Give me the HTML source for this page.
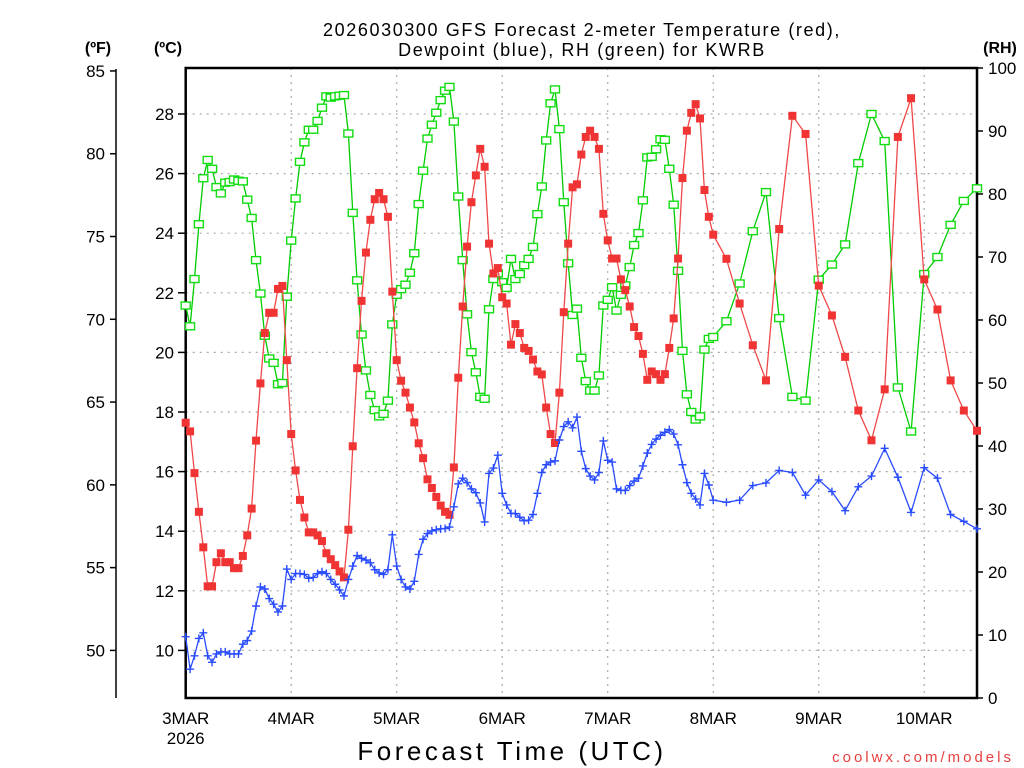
<!DOCTYPE html>
<html><head><meta charset="utf-8"><style>
html,body{margin:0;padding:0;background:#fff;}
svg{display:block;font-family:"Liberation Sans",sans-serif;}
</style></head><body>
<svg id="chart" width="1024" height="768" viewBox="0 0 1024 768" xmlns="http://www.w3.org/2000/svg">
<text x="582" y="36" font-size="18" letter-spacing="1.6" text-anchor="middle" fill="#000">2026030300 GFS Forecast 2-meter Temperature (red),</text>
<text x="582" y="56" font-size="18" letter-spacing="1.6" text-anchor="middle" fill="#000">Dewpoint (blue), RH (green) for KWRB</text>
<text x="98" y="53" font-size="16" font-weight="bold" text-anchor="middle">(ºF)</text>
<text x="168" y="53" font-size="16" font-weight="bold" text-anchor="middle">(ºC)</text>
<text x="1000" y="53" font-size="16" font-weight="bold" text-anchor="middle">(RH)</text>
<text x="512" y="760" font-size="26" letter-spacing="3.5" text-anchor="middle">Forecast Time (UTC)</text>
<text x="1014" y="762" font-size="15" letter-spacing="3" text-anchor="end" fill="#e84040">coolwx.com/models</text>
<g id="grid"></g><g id="axes"></g><g id="series"></g>
</svg>
<script>
const hours=[0,1,2,3,4,5,6,7,8,9,10,11,12,13,14,15,16,17,18,19,20,21,22,23,24,25,26,27,28,29,30,31,32,33,34,35,36,37,38,39,40,41,42,43,44,45,46,47,48,49,50,51,52,53,54,55,56,57,58,59,60,61,62,63,64,65,66,67,68,69,70,71,72,73,74,75,76,77,78,79,80,81,82,83,84,85,86,87,88,89,90,91,92,93,94,95,96,97,98,99,100,101,102,103,104,105,106,107,108,109,110,111,112,113,114,115,116,117,118,119,120,123,126,129,132,135,138,141,144,147,150,153,156,159,162,165,168,171,174,177,180];
const tempC=[17.64,17.35,15.95,14.65,13.46,12.15,12.15,12.96,13.26,12.96,12.96,12.76,12.76,13.17,13.86,14.76,17.04,18.96,20.65,21.33,21.33,22.13,22.23,19.74,17.26,16.04,15.05,14.46,13.96,13.96,13.86,13.67,13.26,13.06,12.86,12.65,12.45,14.05,16.85,19.47,21.73,23.35,24.45,25.14,25.35,25.14,24.55,22.04,19.74,19.05,
18.65,18.15,17.65,16.95,16.45,15.74,15.45,15.15,14.86,14.65,14.55,16.14,19.15,21.54,23.55,25.04,25.94,26.83,26.23,23.65,22.65,22.83,21.85,21.64,20.26,20.95,20.65,20.15,20.05,19.76,19.36,19.26,18.15,17.26,16.96,18.65,21.35,23.65,25.54,25.64,26.64,27.23,27.44,27.23,26.83,24.65,23.76,23.15,
23.15,22.45,22.09,21.54,20.85,20.55,19.95,19.08,19.36,19.27,19.08,19.27,20.15,21.14,23.15,25.85,27.44,28.04,28.33,27.85,25.45,24.55,23.95,
23.14,21.64,20.24,19.06,24.14,27.94,27.33,22.24,21.24,19.85,18.05,17.05,18.76,27.23,28.53,22.45,21.44,19.06,18.05,17.37];
const dewC=[10.46,9.37,9.82,10.4,10.59,9.82,9.6,9.88,9.95,9.95,9.88,9.88,9.88,10.21,10.33,10.65,11.49,12.13,12.06,11.74,11.55,11.29,11.49,12.73,12.38,12.58,12.58,12.55,12.42,12.45,12.58,12.64,12.58,12.38,12.22,12.03,11.83,12.38,12.83,13.18,13.09,13.03,12.94,12.71,12.6,12.55,12.71,13.88,12.83,12.38,
12.13,12.06,12.32,13.22,13.73,13.92,14.01,14.05,14.08,14.09,14.14,14.82,15.59,15.78,15.63,15.42,15.29,14.95,14.31,15.94,16.12,16.55,15.27,14.88,14.6,14.59,14.47,14.35,14.37,14.56,15.27,15.97,16.23,16.32,16.36,17.06,17.51,17.67,17.47,17.83,16.68,16.1,15.85,15.72,15.97,17.03,16.38,16.32,
15.42,15.37,15.37,15.53,15.68,15.78,16.19,16.62,16.91,17.09,17.22,17.32,17.41,17.26,16.9,16.23,15.63,15.27,15.08,14.88,15.94,15.55,15.04,
14.97,15.04,15.53,15.62,16.04,15.97,15.21,15.72,15.33,14.69,15.49,15.85,16.78,15.81,14.63,16.13,15.78,14.56,14.33,14.08];
const rhPct=[62.3,59.0,66.5,75.2,82.5,85.4,84.0,81.1,80.1,81.8,81.9,82.3,82.1,82.0,79.1,76.2,69.5,64.2,57.5,53.9,53.2,49.8,50.0,63.7,72.6,79.3,85.1,88.2,90.2,90.2,91.6,93.7,95.5,95.3,95.5,95.6,95.7,89.6,77.0,66.3,57.7,52.0,48.1,45.7,44.7,45.1,47.2,59.3,64.0,64.9,
65.6,67.5,70.6,78.4,83.7,88.8,91.0,92.9,94.9,96.4,97.0,91.5,79.6,69.5,60.9,54.9,51.7,47.8,47.5,61.7,66.5,67.4,66.0,65.1,69.7,66.5,67.3,68.7,69.7,71.6,76.8,81.2,88.5,94.4,96.6,90.3,78.7,69.0,60.8,61.8,54.0,50.3,48.8,48.8,51.2,62.3,63.2,65.2,
61.5,64.0,65.5,68.4,71.9,73.8,79.0,85.8,85.9,87.1,88.7,88.6,84.0,78.3,67.8,55.1,48.2,45.4,44.2,44.7,55.3,57.0,57.3,
59.8,65.8,74.1,80.3,60.3,47.8,47.2,66.4,68.8,72.0,84.9,92.7,88.4,49.3,42.3,67.3,70.0,75.1,78.9,80.9];
const dayLabels=["3MAR","4MAR","5MAR","6MAR","7MAR","8MAR","9MAR","10MAR"];
const cTicks=[10,12,14,16,18,20,22,24,26,28];
const fTicks=[50,55,60,65,70,75,80,85];
const rhTicks=[0,10,20,30,40,50,60,70,80,90,100];

const X0=185.7,X1=977,Y0=68,Y1=698;
function xs(h){return X0+h*(X1-X0)/180;}
function yc(c){return 114+(28-c)*29.8;}
function yf(f){return yc((f-32)/1.8);}
function yr(r){return Y1-r*(Y1-Y0)/100;}
const NS="http://www.w3.org/2000/svg";
function mk(tag,attrs,parent){const e=document.createElementNS(NS,tag);for(const k in attrs)e.setAttribute(k,attrs[k]);parent.appendChild(e);return e;}
const grid=document.getElementById('grid'),axes=document.getElementById('axes'),ser=document.getElementById('series');

cTicks.forEach(c=>{
  const g=mk('line',{x1:X0,x2:X1,y1:yc(c),y2:yc(c),stroke:'#aaa','stroke-width':1.2,'stroke-dasharray':'2,5'},grid);
  
  
  const t=mk('line',{x1:178,x2:X0,y1:yc(c),y2:yc(c),stroke:'#000','stroke-width':1.5},axes);
  
  
  const l=mk('text',{x:174,y:yc(c)+6,'font-size':17,'text-anchor':'end'},axes);l.textContent=c;
  
  
});
dayLabels.forEach((d,i)=>{
  const x=xs(i*24);
  if(i>0){const g=mk('line',{x1:x,x2:x,y1:Y0,y2:Y1,stroke:'#aaa','stroke-width':1.2,'stroke-dasharray':'2,5'},grid);
  
  }
  const l=mk('text',{x:x,y:724,'font-size':17,'text-anchor':'middle'},axes);l.textContent=d;
  
  
});
const yr2=mk('text',{x:X0,y:744,'font-size':17,'text-anchor':'middle'},axes);yr2.textContent='2026';


const fl=mk('line',{x1:116,x2:116,y1:yf(85)-2,y2:Y1,stroke:'#000','stroke-width':1.5},axes);


fTicks.forEach(f=>{
  const t=mk('line',{x1:110,x2:116,y1:yf(f),y2:yf(f),stroke:'#000','stroke-width':1.5},axes);
  
  
  const l=mk('text',{x:105,y:yf(f)+6,'font-size':17,'text-anchor':'end'},axes);l.textContent=f;
  
  
});
rhTicks.forEach(r=>{
  const t=mk('line',{x1:X1,x2:X1+6,y1:yr(r),y2:yr(r),stroke:'#000','stroke-width':1.5},axes);
  
  
  const l=mk('text',{x:988,y:yr(r)+6,'font-size':17,'text-anchor':'start'},axes);l.textContent=r;
  
  
});
const fr=mk('rect',{x:X0,y:Y0,width:X1-X0,height:Y1-Y0,fill:'none',stroke:'#000','stroke-width':2.5},axes);



function drawLine(vals,yfn,color,name){
  const pts=vals.map((v,i)=>xs(hours[i]).toFixed(1)+','+yfn(v).toFixed(1)).join(' ');
  const p=mk('polyline',{points:pts,fill:'none',stroke:color,'stroke-width':1.3},ser);
  
  
}
drawLine(rhPct,yr,'#00cc00','rh-line');
rhPct.forEach((v,i)=>{
  const m=mk('rect',{x:xs(hours[i])-4.5,y:yr(v)-3.5,width:9,height:7,fill:'#fff',stroke:'#11dd11','stroke-width':1.4},ser);
  
  
});
drawLine(tempC,yc,'#f04848','temperature-line');
tempC.forEach((v,i)=>{
  const m=mk('rect',{x:xs(hours[i])-4,y:yc(v)-4,width:8,height:8,fill:'#f03434'},ser);
  
  
});
drawLine(dewC,yc,'#2a4cff','dewpoint-line');
dewC.forEach((v,i)=>{
  const x=xs(hours[i]),y=yc(v);
  const m=mk('path',{d:`M${x-4},${y}H${x+4}M${x},${y-4}V${y+4}`,stroke:'#2a4cff','stroke-width':1.4,fill:'none'},ser);
  
  
});
</script>
</body></html>
